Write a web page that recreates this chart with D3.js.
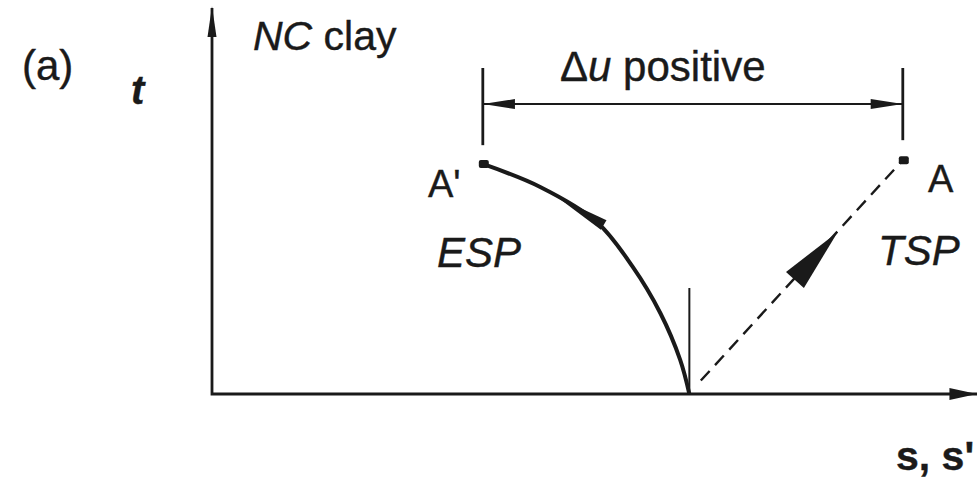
<!DOCTYPE html>
<html lang="en">
<head>
    <meta charset="UTF-8">
    <title>NC clay stress paths</title>
    <script src="https://d3js.org/d3.v7.min.js"></script>
    <style>
        body {background:#fff; margin:0}
        svg {display:block}
        text {font-family:"Liberation Sans", Arial, sans-serif; fill:#1a1a1a; stroke:#1a1a1a; stroke-width:0.4}
    </style>
</head>
<body>
<svg id="chart" width="977" height="480"></svg>

<script>
// points in (s, t) units
var origin = [6.24, 0];
var pointA = [9.03, 6.09];      // total stress end
var pointA2 = [3.54, 5.99];     // effective stress end (A')
// effective stress path, A' -> origin
var espS = [3.54, 4.29, 5.03, 5.50, 5.86, 6.12, 6.24];
var espT = [5.99, 5.39, 4.48, 3.31, 2.11, 0.89, 0.0];
// delta-u bracket
var bracketT = 7.55;
var bracketTop = 8.49;
var bracketBottom = [6.48, 6.61];
var tickTop = 2.76;
// direction arrows: [tip, base]
var espArrow = [[4.52, 5.12], [5.12, 4.40]];
var tspArrow = [[8.18, 4.22], [7.62, 2.97]];

var svg = d3.select("#chart");
var x = d3.scaleLinear().domain([0, 10]).range([212, 977]);
var y = d3.scaleLinear().domain([0, 10]).range([394, 10]);
var ink = "#1a1a1a";

function line(pts){
    return d3.line().x(function(d){ return x(d[0]); }).y(function(d){ return y(d[1]); })(pts);
}

// filled arrow head, tip and base in data units, width in px
function arrowHead(tip, base, w){
    var tx = x(tip[0]), ty = y(tip[1]), bx = x(base[0]), by = y(base[1]);
    var dx = tx - bx, dy = ty - by, len = Math.sqrt(dx*dx + dy*dy);
    var nx = -dy/len*w/2, ny = dx/len*w/2;
    svg.append("path")
        .attr("d", "M"+tx+","+ty+"L"+(bx+nx)+","+(by+ny)+"L"+(bx-nx)+","+(by-ny)+"Z")
        .attr("fill", ink);
}

// axes
svg.append("path").attr("d", line([[0, 10.05], [0, 0], [10, 0]]))
    .attr("fill", "none").attr("stroke", ink).attr("stroke-width", 2.8);
arrowHead([0, 10.1], [0, 9.3], 9);
arrowHead([10, 0], [9.64, 0], 12);

// small tick at the start point
svg.append("path").attr("d", line([[origin[0], tickTop], [origin[0], 0]]))
    .attr("stroke", ink).attr("stroke-width", 2);

// ESP curve
var espPts = espS.map(function(s, i){ return [s, espT[i]]; });
svg.append("path")
    .attr("d", d3.line().curve(d3.curveCatmullRom).x(function(d){ return x(d[0]); }).y(function(d){ return y(d[1]); })(espPts))
    .attr("fill", "none").attr("stroke", ink).attr("stroke-width", 4);
arrowHead(espArrow[0], espArrow[1], 11);

// TSP dashed line
svg.append("path").attr("d", line([[origin[0] + 0.15, 0.35], pointA]))
    .attr("stroke", ink).attr("stroke-width", 2.4).attr("stroke-dasharray", "13,8");
arrowHead(tspArrow[0], tspArrow[1], 24);

// end points
svg.selectAll("rect.pt").data([pointA2, pointA]).enter().append("rect")
    .attr("class", "pt")
    .attr("x", function(d){ return x(d[0]) - 4; })
    .attr("y", function(d){ return y(d[1]) - 4; })
    .attr("width", 10).attr("height", 8).attr("rx", 2)
    .attr("fill", ink);

// delta u bracket
svg.append("path").attr("d", line([[pointA2[0], bracketT], [pointA[0], bracketT]]))
    .attr("stroke", ink).attr("stroke-width", 2);
[[pointA2[0], bracketBottom[0]], [pointA[0], bracketBottom[1]]].forEach(function(d){
    svg.append("path").attr("d", line([[d[0], bracketTop], [d[0], d[1]]]))
        .attr("stroke", ink).attr("stroke-width", 2.8);
});
arrowHead([pointA2[0], bracketT], [pointA2[0] + 0.42, bracketT], 10);
arrowHead([pointA[0], bracketT], [pointA[0] - 0.42, bracketT], 10);

// labels
function label(txt, px, py, size, opts){
    opts = opts || {};
    var t = svg.append("text").attr("x", px).attr("y", py).attr("font-size", size);
    if (opts.italic) t.attr("font-style", "italic");
    if (opts.bold) t.attr("font-weight", "bold");
    t.text(txt);
    return t;
}
label("(a)", 22, 80, 42);
label("t", 131, 104, 40, {italic: true, bold: true});

var nc = svg.append("text").attr("x", 253).attr("y", 50).attr("font-size", 41);
nc.append("tspan").attr("font-style", "italic").text("NC");
nc.append("tspan").text(" clay");

var du = svg.append("text").attr("x", 560).attr("y", 81).attr("font-size", 42);
du.append("tspan").text("\u0394");
du.append("tspan").attr("font-style", "italic").text("u");
du.append("tspan").text(" positive");

label("A'", 428, 197, 38);
label("A", 928, 192, 38);
label("ESP", 437, 267, 42, {italic: true});
label("TSP", 878, 265, 42, {italic: true});
label("s, s'", 896, 470, 41, {bold: true});
</script>
</body>
</html>
